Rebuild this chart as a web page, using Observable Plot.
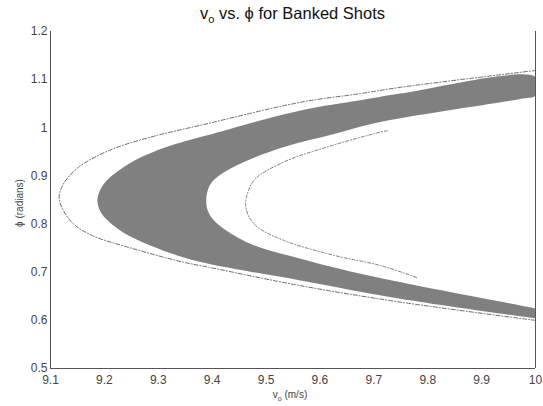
<!DOCTYPE html>
<html>
<head>
<meta charset="utf-8">
<script src="https://cdn.jsdelivr.net/npm/d3@7"></script>
<script src="https://cdn.jsdelivr.net/npm/@observablehq/plot@0.6"></script>
<style>
  html, body { margin: 0; padding: 0; background: white; }
  #chart { width: 543px; height: 406px; }
</style>
</head>
<body>
<div id="chart"></div>
<script>
// Gray band boundary (polygon): outer edge bottom->top, right edge, inner edge top->bottom
const bandV   = [10.0, 9.749, 9.564, 9.395, 9.346, 9.284, 9.234, 9.202, 9.191, 9.187, 9.191, 9.200, 9.218, 9.256, 9.315, 9.389, 9.564, 9.675, 9.749, 10.0,
                 10.0, 9.972, 9.712, 9.626, 9.533, 9.459, 9.417, 9.398, 9.391, 9.389, 9.391, 9.400, 9.417, 9.471, 9.564, 9.690, 9.972, 10.0];
const bandPhi = [0.604, 0.645, 0.683, 0.717, 0.731, 0.756, 0.783, 0.812, 0.830, 0.849, 0.868, 0.885, 0.904, 0.932, 0.960, 0.984, 1.036, 1.057, 1.071, 1.105,
                 1.067, 1.060, 1.012, 0.987, 0.960, 0.929, 0.904, 0.885, 0.867, 0.849, 0.831, 0.812, 0.794, 0.759, 0.728, 0.693, 0.631, 0.625];

// Outer dotted curve
const outerV   = [10.0, 9.749, 9.564, 9.395, 9.346, 9.253, 9.178, 9.143, 9.123, 9.116, 9.125, 9.152, 9.209, 9.284, 9.389, 9.564, 9.675, 9.749, 9.963, 10.0];
const outerPhi = [0.600, 0.638, 0.672, 0.710, 0.721, 0.749, 0.776, 0.800, 0.830, 0.856, 0.885, 0.918, 0.953, 0.980, 1.008, 1.053, 1.071, 1.084, 1.114, 1.119];

// Inner dotted curve
const innerV   = [9.725, 9.712, 9.613, 9.533, 9.480, 9.467, 9.462, 9.467, 9.484, 9.533, 9.626, 9.712, 9.782];
const innerPhi = [0.994, 0.991, 0.960, 0.929, 0.894, 0.868, 0.843, 0.818, 0.794, 0.766, 0.735, 0.714, 0.688];

const xTicks = [9.1, 9.2, 9.3, 9.4, 9.5, 9.6, 9.7, 9.8, 9.9, 10];
const xTickLabels = ["9.1", "9.2", "9.3", "9.4", "9.5", "9.6", "9.7", "9.8", "9.9", "10"];
const yTicks = [0.5, 0.6, 0.7, 0.8, 0.9, 1.0, 1.1, 1.2];
const yTickLabels = ["0.5", "0.6", "0.7", "0.8", "0.9", "1", "1.1", "1.2"];

const band = bandV.map((v, i) => ({v, phi: bandPhi[i]}));
const outer = outerV.map((v, i) => ({v, phi: outerPhi[i]}));
const inner = innerV.map((v, i) => ({v, phi: innerPhi[i]}));

const W = 543, H = 406, mL = 50, mR = 8, mT = 31, mB = 38;

const svg = Plot.plot({
  width: W, height: H,
  marginLeft: mL, marginRight: mR, marginTop: mT, marginBottom: mB,
  style: {fontFamily: "'Liberation Sans', Arial, sans-serif", fontSize: "12px", color: "#444", background: "white"},
  x: {domain: [9.1, 10], ticks: xTicks, tickFormat: d => xTickLabels[xTicks.findIndex(t => Math.abs(t - d) < 1e-9)], tickSize: 0, tickPadding: 7, label: null},
  y: {domain: [0.5, 1.2], ticks: yTicks, tickFormat: d => yTickLabels[yTicks.findIndex(t => Math.abs(t - d) < 1e-9)], tickSize: 0, tickPadding: 3, label: null},
  marks: [
    Plot.line(band, {x: "v", y: "phi", fill: "#808080", stroke: "none", curve: "catmull-rom", clip: true}),
    Plot.line(outer, {x: "v", y: "phi", stroke: "#6a6a6a", strokeWidth: 1, strokeDasharray: "4,2,1,2", curve: "catmull-rom", clip: true}),
    Plot.line(inner, {x: "v", y: "phi", stroke: "#7a7a7a", strokeWidth: 1, strokeDasharray: "3,2,1,2", curve: "catmull-rom", clip: true}),
    Plot.ruleX([9.1, 10], {stroke: "#555", strokeWidth: 1}),
    Plot.ruleY([0.5], {stroke: "#555", strokeWidth: 1})
  ]
});

document.getElementById("chart").appendChild(svg);

const s = d3.select(svg);
// Title
const t = s.append("text")
  .attr("x", (mL + W - mR) / 2)
  .attr("y", 19)
  .attr("text-anchor", "middle")
  .attr("font-family", "'Liberation Sans', Arial, sans-serif")
  .attr("font-size", 16.5)
  .attr("fill", "#111");
t.append("tspan").text("v");
t.append("tspan").attr("font-size", 11).attr("dy", 4).text("o");
t.append("tspan").attr("dy", -4).text(" vs. \u03D5 for Banked Shots");

// X label
const xl = s.append("text")
  .attr("x", 290)
  .attr("y", 398)
  .attr("text-anchor", "middle")
  .attr("font-family", "'Liberation Sans', Arial, sans-serif")
  .attr("font-size", 10)
  .attr("fill", "#444");
xl.append("tspan").text("v");
xl.append("tspan").attr("font-size", 7).attr("dy", 3).text("o");
xl.append("tspan").attr("dy", -3).text(" (m/s)");

// Y label
s.append("text")
  .attr("transform", "translate(23,203) rotate(-90)")
  .attr("text-anchor", "middle")
  .attr("font-family", "'Liberation Sans', Arial, sans-serif")
  .attr("font-size", 10)
  .attr("fill", "#444")
  .text("\u03D5 (radians)");
</script>
</body>
</html>
